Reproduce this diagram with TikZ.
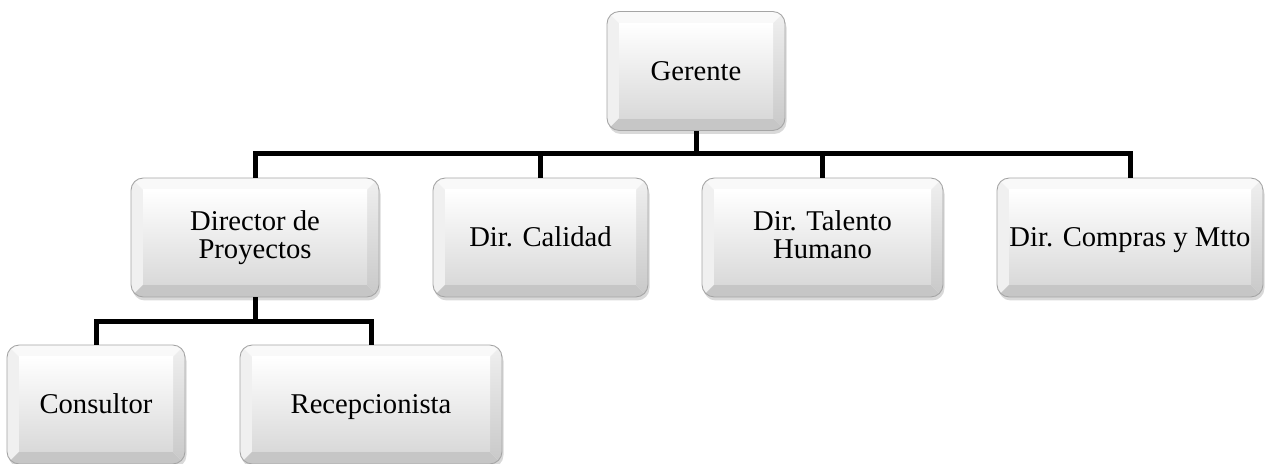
\documentclass[tikz,border=0pt]{standalone}
\usepackage{fontspec}
\setmainfont{Liberation Serif}
\usetikzlibrary{positioning, calc, shadows}
\definecolor{rimcolor}{RGB}{165,165,165}
\definecolor{facebottom}{RGB}{217,217,217}
\definecolor{bevelside}{RGB}{200,200,200}
\definecolor{bevelbottom}{RGB}{198,198,198}

\begin{document}
\begin{tikzpicture}[
    box/.style={draw=rimcolor, line width=0.5pt, rounded corners=7pt, fill=white, inner sep=0pt,
        minimum height=2.38cm, align=center, font=\fontsize{16.3}{16}\selectfont,
        execute at begin node={\rule{0pt}{14pt}}, execute at end node={\rule[-3.2pt]{0pt}{3.2pt}},
        drop shadow={shadow xshift=0.03cm, shadow yshift=-0.07cm, opacity=0.3},
        path picture={
            \coordinate (pnw) at (path picture bounding box.north west);
            \coordinate (pne) at (path picture bounding box.north east);
            \coordinate (psw) at (path picture bounding box.south west);
            \coordinate (pse) at (path picture bounding box.south east);
            \coordinate (inw) at ($(pnw)+(0.24,-0.24)$);
            \coordinate (ine) at ($(pne)+(-0.24,-0.24)$);
            \coordinate (isw) at ($(psw)+(0.24,0.24)$);
            \coordinate (ise) at ($(pse)+(-0.24,0.24)$);
            \fill[sharp corners, gray!5] (pnw) -- (pne) -- (ine) -- (inw) -- cycle;
            \fill[sharp corners, gray!12] (pnw) -- (inw) -- (isw) -- (psw) -- cycle;
            \shade[sharp corners, top color=gray!12, bottom color=bevelside] (pne) -- (pse) -- (ise) -- (ine) -- cycle;
            \fill[sharp corners, bevelbottom] (psw) -- (pse) -- (ise) -- (isw) -- cycle;
            \shade[sharp corners, top color=white, bottom color=facebottom] (inw) rectangle (ise);
        }},
    conn/.style={line width=0.1cm, black}
]
    \useasboundingbox (0,0) rectangle (25.3,-9.28);

    % Top
    \node[box, minimum width=3.56cm] (ger) at (13.92,-1.42) {Gerente};

    % Directors
    \node[box, minimum width=4.96cm] (dirp) at (5.10,-4.75) {Director de\\Proyectos};
    \node[box, minimum width=4.30cm] (dirc) at (10.81,-4.75) {Dir. Calidad};
    \node[box, minimum width=4.82cm] (dirt) at (16.45,-4.75) {Dir. Talento\\Humano};
    \node[box, minimum width=5.32cm] (dirm) at (22.60,-4.75) {Dir. Compras y Mtto};

    % Staff
    \node[box, minimum width=3.56cm] (cons) at (1.92,-8.09) {Consultor};
    \node[box, minimum width=5.24cm] (recp) at (7.42,-8.09) {Recepcionista};

    % Connections
    \coordinate (busTop) at (0,-3.08);
    \coordinate (busLow) at (0,-6.44);
    \draw[conn] (ger.south) -- (ger.south |- busTop);
    \draw[conn] (dirp.north) |- (dirm.north |- busTop) -- (dirm.north);
    \draw[conn] (dirc.north) -- (dirc.north |- busTop);
    \draw[conn] (dirt.north) -- (dirt.north |- busTop);
    \draw[conn] (dirp.south) -- (dirp.south |- busLow);
    \draw[conn] (cons.north) |- (recp.north |- busLow) -- (recp.north);
\end{tikzpicture}
\end{document}
